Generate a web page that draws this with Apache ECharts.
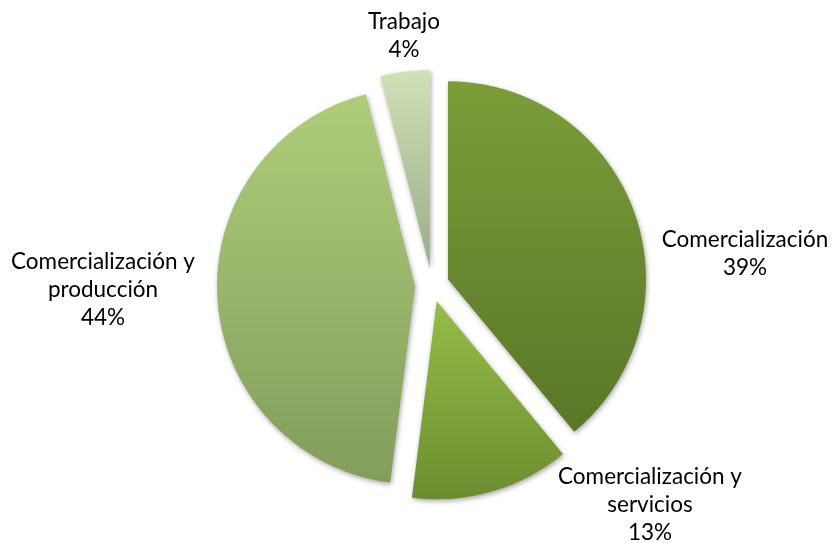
<!DOCTYPE html>
<html>
<head>
<meta charset="utf-8">
<script src="https://cdn.jsdelivr.net/npm/echarts@6/dist/echarts.min.js"></script>
<style>
  html, body { margin: 0; padding: 0; background: #ffffff; }
  #chart { width: 832px; height: 543px; }
</style>
</head>
<body>
<div id="chart"></div>
<script>
// Share of activity types (percent)
const categories = [
  'Comercialización',
  'Comercialización y\nservicios',
  'Comercialización y\nproducción',
  'Trabajo'
];
const shares = [39, 13, 44, 4];

// Top and bottom colours of each slice's vertical gradient
const topColors = ['#7b9d39', '#95bd47', '#aecd7a', '#d0e1b6'];
const bottomColors = ['#5a7627', '#6c8d2f', '#839d5b', '#9aac88'];

// Centre point of each label block, in pixels
const labelCenters = [[745, 254], [650, 505], [103, 290], [404, 36]];

const chart = echarts.init(document.getElementById('chart'), null, { renderer: 'canvas' });

const data = categories.map((name, i) => ({
  name: name,
  value: shares[i],
  selected: true,
  itemStyle: {
    color: new echarts.graphic.LinearGradient(0, 0, 0, 1, [
      { offset: 0, color: topColors[i] },
      { offset: 1, color: bottomColors[i] }
    ])
  }
}));

// Category labels with their percentage, centred on each block
const labels = categories.map((name, i) => ({
  type: 'text',
  x: labelCenters[i][0],
  y: labelCenters[i][1],
  silent: true,
  style: {
    text: name + '\n' + shares[i] + '%',
    fontFamily: 'Lato',
    fontSize: 22.5,
    lineHeight: 28,
    fill: '#000000',
    align: 'center',
    verticalAlign: 'middle'
  }
}));

chart.setOption({
  animation: false,
  backgroundColor: '#ffffff',
  graphic: labels,
  series: [{
    type: 'pie',
    center: [432, 285],
    radius: 198,
    startAngle: 90,
    clockwise: true,
    selectedMode: 'multiple',
    selectedOffset: 17,
    itemStyle: {
      shadowBlur: 5,
      shadowColor: 'rgba(0,0,0,0.35)',
      shadowOffsetX: 1,
      shadowOffsetY: 2
    },
    select: { itemStyle: {} },
    label: { show: false },
    labelLine: { show: false },
    data: data
  }]
});
</script>
</body>
</html>
